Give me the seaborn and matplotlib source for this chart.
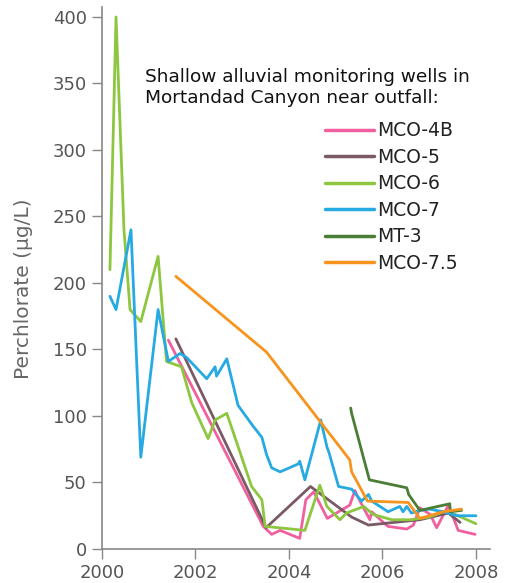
import pandas as pd
import seaborn as sns
import matplotlib.pyplot as plt

# perchlorate data (decimal year, ug/L)
mco4b_t = [2001.42, 2003.45, 2003.63, 2003.81, 2004.23, 2004.36, 2004.53, 2004.82, 2005.30, 2005.41,
           2005.46, 2005.73, 2005.77, 2006.05, 2006.12, 2006.52, 2006.66, 2006.80, 2007.02, 2007.16,
           2007.41, 2007.62, 2007.98]
mco4b_v = [157, 17, 11, 14, 8, 37, 43, 23, 33, 44, 40, 22, 28, 19, 17, 15, 18, 31, 26, 16, 33, 14, 11]

mco5_t = [2001.58, 2003.51, 2004.46, 2005.34, 2005.70, 2006.80, 2007.41, 2007.66]
mco5_v = [158, 16, 47, 24, 18, 22, 27, 20]

mco6_t = [2000.17, 2000.30, 2000.47, 2000.60, 2000.83, 2001.20, 2001.38, 2001.70, 2001.92, 2002.27,
          2002.42, 2002.67, 2003.20, 2003.42, 2003.49, 2004.34, 2004.66, 2004.81, 2005.09, 2005.23,
          2005.60, 2005.80, 2006.20, 2006.60, 2007.00, 2007.30, 2007.55, 2008.00]
mco6_v = [210, 400, 240, 180, 171, 220, 141, 137, 110, 83,
          97, 102, 47, 37, 17, 14, 48, 32, 22, 27,
          32, 26, 22, 22, 24, 28, 26, 19]

mco7_t = [2000.17, 2000.30, 2000.62, 2000.83, 2001.20, 2001.42, 2001.67, 2001.81, 2002.24, 2002.42,
          2002.45, 2002.67, 2002.91, 2003.24, 2003.42, 2003.52, 2003.63, 2003.81, 2004.20, 2004.23,
          2004.34, 2004.68, 2004.81, 2004.86, 2005.06, 2005.34, 2005.55, 2005.70, 2005.77, 2006.12,
          2006.37, 2006.44, 2006.52, 2006.62, 2006.80, 2007.00, 2007.30, 2007.60, 2008.00]
mco7_v = [190, 180, 240, 69, 180, 141, 147, 144, 128, 137,
          130, 143, 108, 92, 84, 71, 61, 58, 64, 66,
          52, 97, 77, 72, 47, 45, 36, 41, 36, 28,
          32, 28, 32, 27, 29, 30, 28, 25, 25]

mt3_t = [2005.32, 2005.34, 2005.72, 2006.52, 2006.56, 2006.80, 2007.44, 2007.45, 2007.69]
mt3_v = [106, 102, 52, 46, 41, 29, 34, 28, 29]

mco75_t = [2001.58, 2003.52, 2005.30, 2005.34, 2005.68, 2006.55, 2006.80, 2007.30, 2007.69]
mco75_v = [205, 148, 67, 58, 36, 35, 23, 28, 30]

wells = ["MCO-4B", "MCO-5", "MCO-6", "MCO-7", "MT-3", "MCO-7.5"]
colors = ["#f0609e", "#7a5a64", "#8dc63f", "#27aae1", "#4a7d36", "#f7941d"]

frames = []
for name, t, v in zip(wells,
                      [mco4b_t, mco5_t, mco6_t, mco7_t, mt3_t, mco75_t],
                      [mco4b_v, mco5_v, mco6_v, mco7_v, mt3_v, mco75_v]):
    frames.append(pd.DataFrame({"year": t, "perchlorate": v, "well": name}))
df = pd.concat(frames, ignore_index=True)

sns.set_style("ticks")
plt.rcParams["font.family"] = ["DejaVu Sans"]

fig = plt.figure(figsize=(5.07, 5.83), dpi=100)
ax = fig.add_axes([102 / 507, 34 / 583, 388 / 507, 542 / 583])

sns.lineplot(data=df, x="year", y="perchlorate", hue="well", hue_order=wells,
             palette=colors, estimator=None, sort=False, linewidth=2, ax=ax)

ax.set_xlim(2000, 2008.3)
ax.set_ylim(0, 407.5)
ax.set_xticks([2000, 2002, 2004, 2006, 2008])
ax.set_yticks(range(0, 401, 50))
ax.set_xlabel("")
ax.set_ylabel("Perchlorate (µg/L)", color="#666666", fontsize=14.5)
ax.yaxis.set_label_coords(-0.178, 0.48)

sns.despine(ax=ax)
for side in ["left", "bottom"]:
    ax.spines[side].set_color("#888888")
    ax.spines[side].set_linewidth(1.2)
ax.tick_params(colors="#888888", labelcolor="#555555", labelsize=13,
               length=7, width=1.0, pad=4)

leg = ax.legend(loc="upper left", bbox_to_anchor=(0.531, 0.82), frameon=False,
                fontsize=13.5, handlelength=2.6, handletextpad=0.2, labelspacing=0.4)
for text in leg.get_texts():
    text.set_color("#222222")
for line in leg.get_lines():
    line.set_linewidth(2.5)

fig.text(145 / 507, 1 - 68 / 583,
         "Shallow alluvial monitoring wells in\nMortandad Canyon near outfall:",
         fontsize=13.3, va="top", ha="left", color="#111111")

fig.savefig("out.png", dpi=100)
